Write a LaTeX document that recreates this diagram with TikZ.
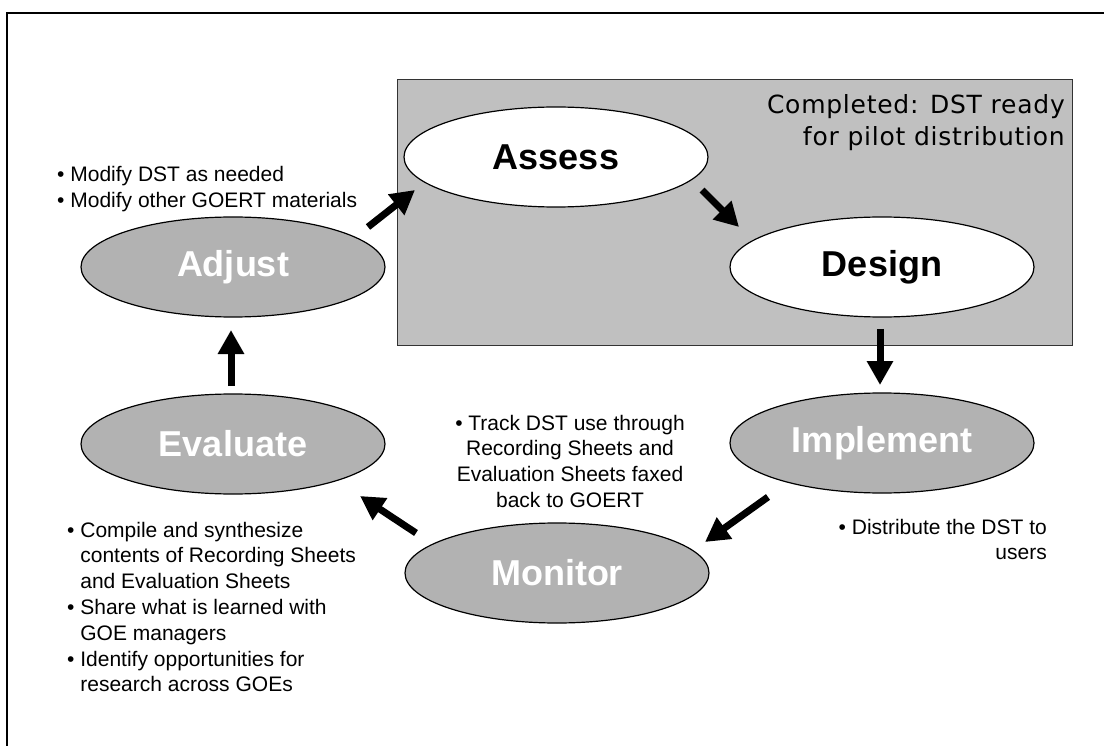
\documentclass[tikz,border=0pt]{standalone}
\usepackage{fontspec}
\setmainfont{Liberation Sans}
\newfontfamily\notefont[LetterSpace=3]{DejaVu Sans}
\usetikzlibrary{arrows.meta,shapes.geometric}

\definecolor{boxgray}{RGB}{192,192,192}
\definecolor{stagegray}{RGB}{178,178,178}

\begin{document}
\begin{tikzpicture}[x=1pt,y=-1pt,
  stage/.style={ellipse, draw=black, line width=1.2pt, minimum width=304pt,
    minimum height=100pt, inner sep=0pt,
    font=\fontsize{36}{40}\selectfont\bfseries},
  donestage/.style={stage, fill=white, text=black},
  openstage/.style={stage, fill=stagegray, text=white},
  blockarrow/.style={line width=7pt, -{Triangle[width=25pt,length=24pt]}},
  note/.style={inner sep=0pt, font=\fontsize{21}{25.8}\selectfont}]

\useasboundingbox (0,0) rectangle (1104,746);

% page frame (only its top and left sides fall inside the page)
\draw[line width=2pt] (1110,13) -- (7,13) -- (7,752);

% shaded region holding the completed phases
\node (completed) [draw=black!80, line width=1.3pt, fill=boxgray, anchor=north west,
  minimum width=675pt, minimum height=266pt, inner sep=0pt] at (397,79) {};
\node (completednote) [anchor=base east, inner sep=0pt,
  font=\notefont\fontsize{25}{32}\selectfont] at (1065,114)
  {\parbox[t]{360pt}{\raggedleft Completed: DST ready\hspace*{7pt}\\for pilot distribution}};

% the six stages of the cycle
\node (assess)    [donestage] at (556,157) {Assess};
\node (design)    [donestage] at (882,267) {Design};
\node (implement) [openstage] at (882,443) {Implement};
\node (monitor)   [openstage] at (557,573) {Monitor};
\node (evaluate)  [openstage] at (233,444) {Evaluate};
\node (adjust)    [openstage] at (233,267) {Adjust};

% arrow end points around the stages
\coordinate (a1s) at ([shift={(135,-40)}]adjust.center);
\coordinate (a1e) at ([shift={(-141,33)}]assess.center);
\coordinate (a2s) at ([shift={(146,33)}]assess.center);
\coordinate (a2e) at ([shift={(-143,-40)}]design.center);
\coordinate (a3s) at ([shift={(-2,62)}]design.center);
\coordinate (a3e) at ([shift={(-2,-58)}]implement.center);
\coordinate (a4s) at ([shift={(-114,54)}]implement.center);
\coordinate (a4e) at ([shift={(148,-31)}]monitor.center);
\coordinate (a5s) at ([shift={(-141,-40)}]monitor.center);
\coordinate (a5e) at ([shift={(127,52)}]evaluate.center);
\coordinate (a6s) at ([shift={(-2,-58)}]evaluate.center);
\coordinate (a6e) at ([shift={(-2,63)}]adjust.center);

\draw[blockarrow] (a1s) -- (a1e);
\draw[blockarrow] (a2s) -- (a2e);
\draw[blockarrow] (a3s) -- (a3e);
\draw[blockarrow] (a4s) -- (a4e);
\draw[blockarrow] (a5s) -- (a5e);
\draw[blockarrow] (a6s) -- (a6e);

% notes beside the stages
\node (adjustnote) [note, anchor=base west] at (57,182)
  {\parbox[t]{340pt}{\raggedright
   • Modify DST as needed\\
   • Modify other GOERT materials}};

\node (monitornote) [note, anchor=base] at (570,430)
  {\parbox[t]{300pt}{\centering
   • Track DST use through\\
   Recording Sheets and\\
   Evaluation Sheets faxed\\
   back to GOERT}};

\node (implementnote) [note, anchor=base east] at (1047,534)
  {\parbox[t]{300pt}{\raggedleft
   • Distribute the DST to\\
   users}};

\node (evaluatenote) [note, anchor=base west] at (67,537)
  {\parbox[t]{340pt}{\raggedright
   • Compile and synthesize\\
   \phantom{• }contents of Recording Sheets\\
   \phantom{• }and Evaluation Sheets\\
   • Share what is learned with\\
   \phantom{• }GOE managers\\
   • Identify opportunities for\\
   \phantom{• }research across GOEs}};

\end{tikzpicture}
\end{document}
